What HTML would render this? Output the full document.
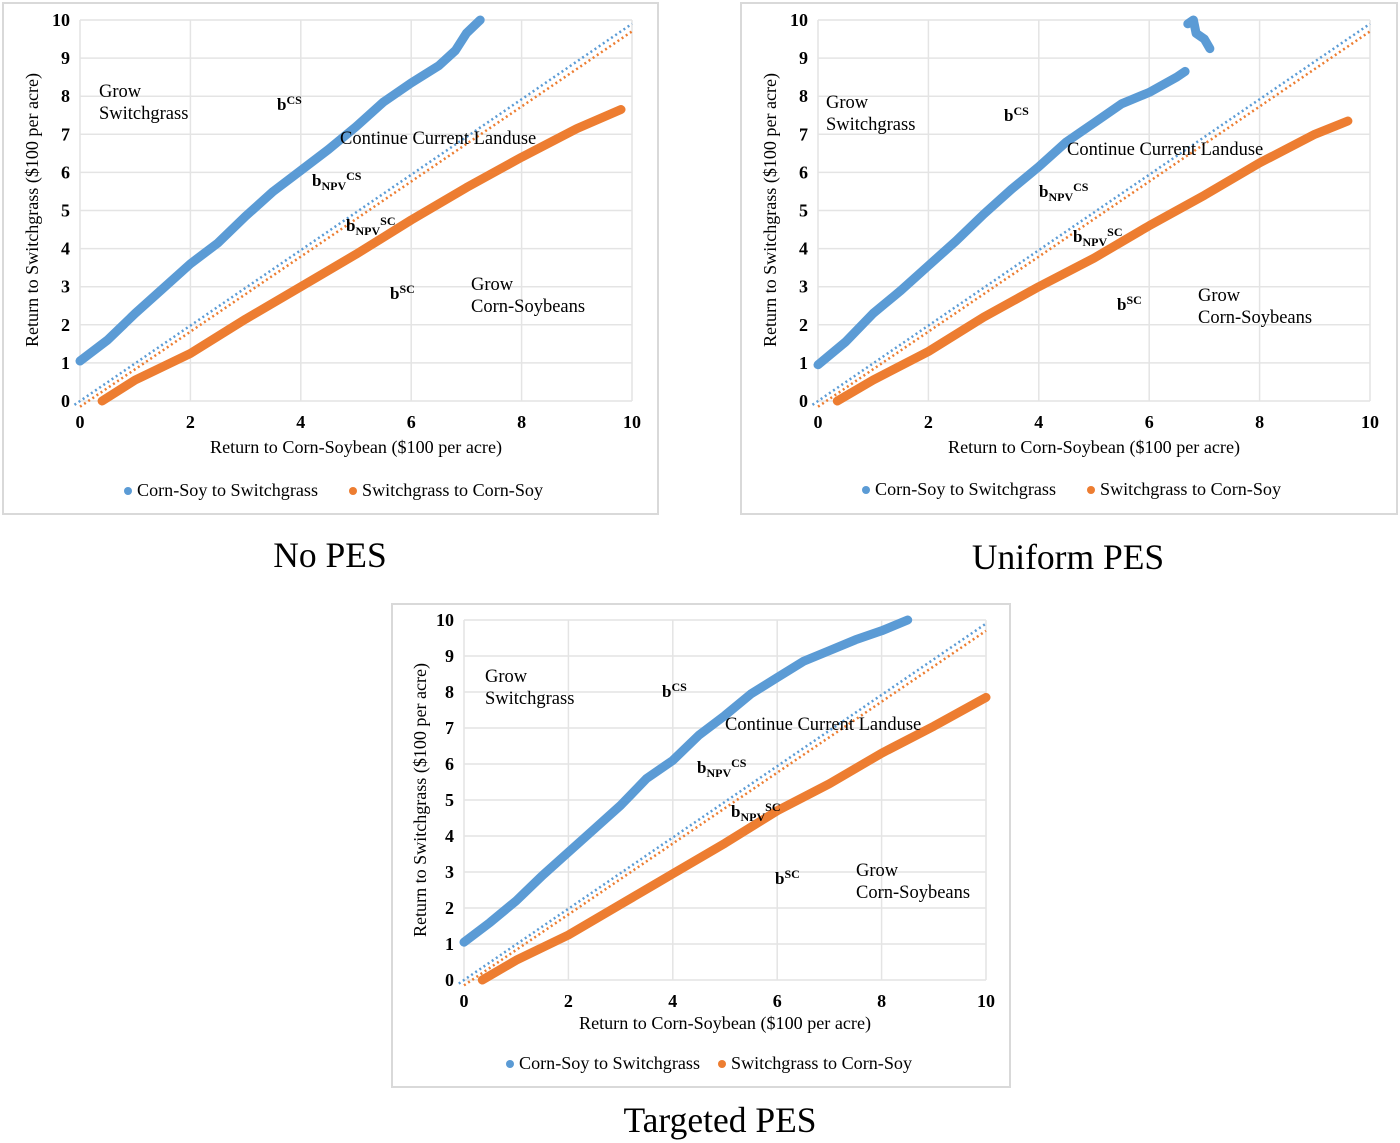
<!DOCTYPE html>
<html><head><meta charset="utf-8"><style>
html,body{margin:0;padding:0;background:#fff;}
svg{display:block;font-family:"Liberation Serif",serif;}
</style></head><body>
<svg id="svg" width="1400" height="1143" viewBox="0 0 1400 1143" xmlns="http://www.w3.org/2000/svg">
<text x="330" y="567" font-size="35.5" text-anchor="middle">No PES</text>
<text x="1068" y="569" font-size="35.5" text-anchor="middle">Uniform PES</text>
<text x="720" y="1132" font-size="35.5" text-anchor="middle">Targeted PES</text>
</svg>
<script>
// Chart 1: No PES
const c1BlueX = [0,0.5,1,1.5,2,2.5,3,3.5,4,4.5,5,5.5,6,6.5,6.8,7,7.25];
const c1BlueY = [1.05,1.6,2.3,2.95,3.6,4.15,4.85,5.5,6.05,6.6,7.2,7.85,8.35,8.8,9.2,9.65,10];
const c1OrangeX = [0.4,1,2,3,4,5,6,7,8,9,9.8];
const c1OrangeY = [0,0.55,1.25,2.15,3.0,3.85,4.75,5.6,6.4,7.15,7.65];
// Chart 2: Uniform PES
const c2BlueX = [0,0.5,1,1.5,2,2.5,3,3.5,4,4.5,5,5.5,6,6.5,6.65];
const c2BlueY = [0.95,1.55,2.3,2.9,3.55,4.2,4.9,5.55,6.15,6.8,7.3,7.8,8.1,8.5,8.65];
const c2BlueX2 = [6.7,6.8,6.85,7,7.1];
const c2BlueY2 = [9.9,10,9.65,9.5,9.25];
const c2OrangeX = [0.35,1,2,3,4,5,6,7,8,9,9.6];
const c2OrangeY = [0,0.55,1.3,2.2,3.0,3.75,4.6,5.4,6.25,7.0,7.35];
// Chart 3: Targeted PES
const c3BlueX = [0,0.5,1,1.5,2,2.5,3,3.5,4,4.5,5,5.5,6,6.5,7,7.5,8,8.5];
const c3BlueY = [1.05,1.6,2.2,2.9,3.55,4.2,4.85,5.6,6.1,6.8,7.35,7.95,8.4,8.85,9.15,9.45,9.7,10];
const c3OrangeX = [0.35,1,2,3,4,5,6,7,8,9,10];
const c3OrangeY = [0,0.55,1.25,2.1,2.95,3.8,4.7,5.45,6.3,7.05,7.85];
const xTicks = [0,2,4,6,8,10];
const yTicks = [0,1,2,3,4,5,6,7,8,9,10];
const refBlue = [[-0.1,-0.1],[10,9.9]];
const refOrange = [[0,-0.15],[10,9.7]];

const NS="http://www.w3.org/2000/svg";
const svg=document.getElementById('svg');
function mk(tag,attrs,parent){const e=document.createElementNS(NS,tag);for(const k in attrs)e.setAttribute(k,attrs[k]);(parent||svg).appendChild(e);return e;}

function chart(cfg){
  const g=mk('g',{});
  
  
  const fr=mk('rect',{x:cfg.fx,y:cfg.fy,width:cfg.fw,height:cfg.fh,fill:'#fff',stroke:'#d9d9d9','stroke-width':2},g);
  
  
  const sx=v=>cfg.x0+(cfg.x1-cfg.x0)*v/10;
  const sy=v=>cfg.y0-(cfg.y0-cfg.y1)*v/10;
  yTicks.forEach(t=>{
    const l=mk('line',{x1:sx(0),x2:sx(10),y1:sy(t),y2:sy(t),stroke:'#e4e4e4','stroke-width':1.5},g);
    
    
    const tx=mk('text',{x:sx(0)-10,y:sy(t)+6,'font-size':18,'font-weight':'bold','text-anchor':'end'},g);
    tx.textContent=t;
    
    
  });
  xTicks.forEach(t=>{
    const l=mk('line',{x1:sx(t),x2:sx(t),y1:sy(0),y2:sy(10),stroke:'#e4e4e4','stroke-width':1.5},g);
    
    
    const tx=mk('text',{x:sx(t),y:sy(0)+27,'font-size':18,'font-weight':'bold','text-anchor':'middle'},g);
    tx.textContent=t;
    
    
  });
  const rb=mk('line',{x1:sx(refBlue[0][0]),y1:sy(refBlue[0][1]),x2:sx(refBlue[1][0]),y2:sy(refBlue[1][1]),stroke:'#5b9bd5','stroke-width':2.5,'stroke-dasharray':'2 3'},g);
  
  
  const ro=mk('line',{x1:sx(refOrange[0][0]),y1:sy(refOrange[0][1]),x2:sx(refOrange[1][0]),y2:sy(refOrange[1][1]),stroke:'#ed7d31','stroke-width':2.5,'stroke-dasharray':'2 3'},g);
  
  
  cfg.series.forEach(s=>{
    const pts=s.x.map((v,i)=>sx(v).toFixed(1)+','+sy(s.y[i]).toFixed(1)).join(' ');
    const p=mk('polyline',{points:pts,fill:'none',stroke:s.color,'stroke-width':9,'stroke-linecap':'round','stroke-linejoin':'round'},g);
    
    
  });
  cfg.texts.forEach(t=>{
    const tx=mk('text',{x:t[0],y:t[1],'font-size':t[3]?17:18.5,'font-weight':t[3]?'bold':'normal'},g);
    tx.innerHTML=t[2];
    
    
  });
  const xt=mk('text',{x:cfg.xtx,y:cfg.xty,'font-size':17.5,'text-anchor':'middle',textLength:292,lengthAdjust:'spacingAndGlyphs'},g);
  xt.textContent='Return to Corn-Soybean ($100 per acre)';
  
  
  const yt=mk('text',{x:0,y:0,'font-size':17.5,'text-anchor':'middle',textLength:274,lengthAdjust:'spacingAndGlyphs',transform:`translate(${cfg.ytx},${cfg.yty}) rotate(-90)`},g);
  yt.textContent='Return to Switchgrass ($100 per acre)';
  
  
  const lb=mk('circle',{cx:cfg.lx1,cy:cfg.ly-5,r:4,fill:'#5b9bd5'},g);
  
  
  const lt1=mk('text',{x:cfg.lx1+9,y:cfg.ly,'font-size':17.5,textLength:181,lengthAdjust:'spacingAndGlyphs'},g);
  lt1.textContent='Corn-Soy to Switchgrass';
  
  
  const lo=mk('circle',{cx:cfg.lx2,cy:cfg.ly-5,r:4,fill:'#ed7d31'},g);
  
  
  const lt2=mk('text',{x:cfg.lx2+9,y:cfg.ly,'font-size':17.5,textLength:181,lengthAdjust:'spacingAndGlyphs'},g);
  lt2.textContent='Switchgrass to Corn-Soy';
  
  
}
const NPV_CS='b<tspan font-size="12" dy="4">NPV</tspan><tspan font-size="12" dy="-10">CS</tspan>';
const NPV_SC='b<tspan font-size="12" dy="4">NPV</tspan><tspan font-size="12" dy="-10">SC</tspan>';
function labels(dx,dy){
  const L=[[99,97,'Grow',0],[99,119,'Switchgrass',0],[277,110,'b<tspan font-size="12" dy="-6">CS</tspan>',1],
   [340,144,'Continue Current Landuse',0],[312,186,NPV_CS,1],
   [346,231,NPV_SC,1],
   [390,299,'b<tspan font-size="12" dy="-6">SC</tspan>',1],[471,290,'Grow',0],[471,312,'Corn-Soybeans',0]];
  return L.map(l=>[l[0]+dx,l[1]+dy,l[2],l[3]]);
}
chart({name:'chart-no-pes',fx:3,fy:3,fw:655,fh:511,x0:80,x1:632,y0:401,y1:20,
  series:[{x:c1BlueX,y:c1BlueY,color:'#5b9bd5',name:'series-corn-soy-to-switchgrass'},{x:c1OrangeX,y:c1OrangeY,color:'#ed7d31',name:'series-switchgrass-to-corn-soy'}],
  texts:labels(0,0),xtx:356,xty:453,ytx:38,yty:210,lx1:128,lx2:353,ly:496});
chart({name:'chart-uniform-pes',fx:741,fy:3,fw:656,fh:511,x0:818,x1:1370,y0:401,y1:20,
  series:[{x:c2BlueX,y:c2BlueY,color:'#5b9bd5',name:'series-corn-soy-to-switchgrass'},{x:c2BlueX2,y:c2BlueY2,color:'#5b9bd5',name:'series-corn-soy-to-switchgrass-upper'},{x:c2OrangeX,y:c2OrangeY,color:'#ed7d31',name:'series-switchgrass-to-corn-soy'}],
  texts:labels(727,11),xtx:1094,xty:453,ytx:776,yty:210,lx1:866,lx2:1091,ly:495});
chart({name:'chart-targeted-pes',fx:392,fy:604,fw:618,fh:483,x0:464,x1:986,y0:980,y1:620,
  series:[{x:c3BlueX,y:c3BlueY,color:'#5b9bd5',name:'series-corn-soy-to-switchgrass'},{x:c3OrangeX,y:c3OrangeY,color:'#ed7d31',name:'series-switchgrass-to-corn-soy'}],
  texts:[[485,682,'Grow',0],[485,704,'Switchgrass',0],[662,697,'b<tspan font-size="12" dy="-6">CS</tspan>',1],
   [725,730,'Continue Current Landuse',0],[697,773,NPV_CS,1],
   [731,817,NPV_SC,1],
   [775,884,'b<tspan font-size="12" dy="-6">SC</tspan>',1],[856,876,'Grow',0],[856,898,'Corn-Soybeans',0]],
  xtx:725,xty:1029,ytx:426,yty:800,lx1:510,lx2:722,ly:1069});
</script>
</body></html>
